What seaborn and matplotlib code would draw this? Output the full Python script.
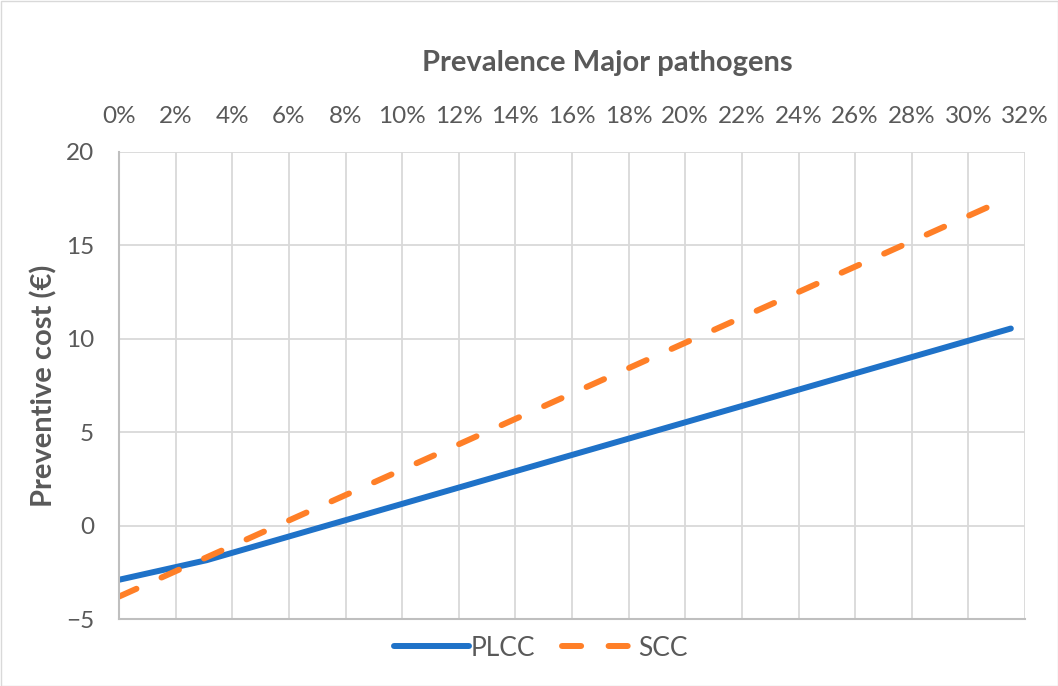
import matplotlib
matplotlib.use("Agg")
import matplotlib.pyplot as plt
from matplotlib.patches import Rectangle
from matplotlib.ticker import PercentFormatter
import seaborn as sns
import pandas as pd

# data (prevalence as fraction, cost in €)
plcc_x = [0.0, 0.031, 0.315]
plcc_y = [-2.9, -1.85, 10.55]
scc_x = [0.0, 0.315]
scc_y = [-3.8, 17.6]
x_ticks = [i / 100 for i in range(0, 34, 2)]
y_ticks = [-5, 0, 5, 10, 15, 20]

sns.set_theme(style="white")
plt.rcParams['font.family'] = ['Lato', 'DejaVu Sans']

gray = "#595959"
blue = "#1F72C8"
orange = "#FF7F27"

fig = plt.figure(figsize=(10.58, 6.86), dpi=100)
ax = fig.add_axes([119/1058, 1-619/686, (1025-119)/1058, (619-152)/686])

df1 = pd.DataFrame({"x": plcc_x, "y": plcc_y})
df2 = pd.DataFrame({"x": scc_x, "y": scc_y})
sns.lineplot(data=df1, x="x", y="y", ax=ax, color=blue, lw=4.3,
             label="PLCC", solid_capstyle="round")
sns.lineplot(data=df2, x="x", y="y", ax=ax, color=orange, lw=4.3,
             label="SCC", dash_capstyle="round", linestyle=(0, (3.2, 4.6)))

ax.set_xlim(0, 0.32)
ax.set_ylim(-5, 20)
ax.set_xticks(x_ticks)
ax.set_yticks(y_ticks)
ax.xaxis.set_major_formatter(PercentFormatter(1.0, decimals=0))
ax.set_yticklabels(["\u22125" if v < 0 else str(v) for v in y_ticks])
ax.xaxis.tick_top()
ax.tick_params(axis="both", length=0, labelsize=17.5, labelcolor=gray, pad=18)
ax.grid(True, color="#d9d9d9", lw=1.3)
for s in ["top", "right"]:
    ax.spines[s].set_visible(False)
for s in ["left", "bottom"]:
    ax.spines[s].set_color("#bfbfbf")
    ax.spines[s].set_linewidth(1.5)
ax.set_xlabel("")
ax.set_ylabel("Preventive cost (€)", fontsize=21, fontweight="bold", color=gray, labelpad=6)

fig.text(607/1058, 1-63/686, "Prevalence Major pathogens", ha="center", va="center",
         fontsize=21, fontweight="bold", color=gray)

leg = ax.legend(loc="center", bbox_to_anchor=(541/1058, 1-648/686),
                bbox_transform=fig.transFigure, ncol=2, frameon=False,
                fontsize=19, handlelength=2.85, columnspacing=1.0, handletextpad=0.05)
for t in leg.get_texts():
    t.set_color(gray)

fig.add_artist(Rectangle((0.5/1058, 0.5/686), 1-1/1058, 1-1/686, transform=fig.transFigure,
                         fill=False, edgecolor="#d9d9d9", lw=1))

fig.savefig("out.png", dpi=100)
